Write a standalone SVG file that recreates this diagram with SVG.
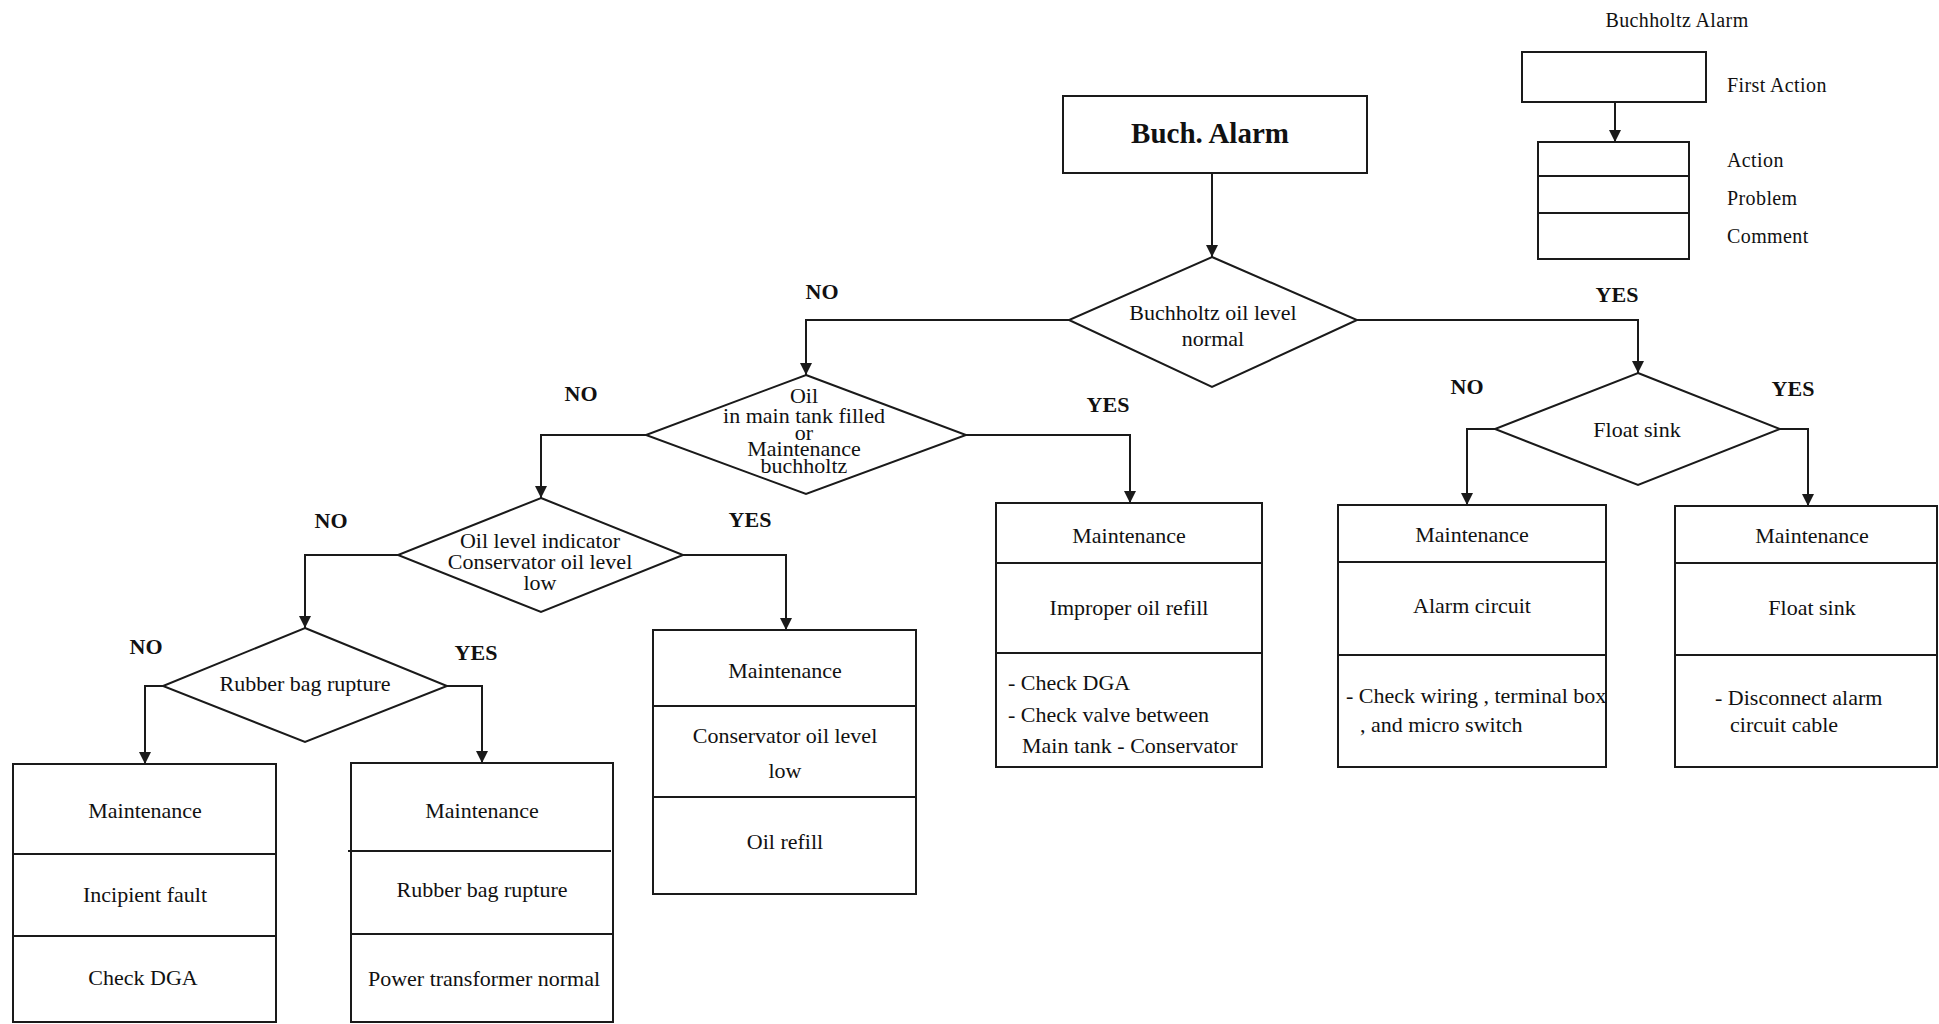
<svg xmlns="http://www.w3.org/2000/svg" width="1939" height="1024" viewBox="0 0 1939 1024">
  <defs>
    <marker id="arrow" viewBox="0 0 12 12" refX="12" refY="6" markerWidth="12" markerHeight="12" markerUnits="userSpaceOnUse" orient="auto">
      <path d="M0,0 L12,6 L0,12 z" fill="#1a1a1a"/>
    </marker>
  </defs>
  <style>
    .shape { fill: #fff; stroke: #1a1a1a; stroke-width: 2; }
    .div { stroke: #1a1a1a; stroke-width: 2; }
    .conn { fill: none; stroke: #1a1a1a; stroke-width: 2; marker-end: url(#arrow); }
    text { font-family: "Liberation Serif", "Times New Roman", serif; fill: #111; }
    .t { font-size: 22px; text-anchor: middle; }
    .tl { font-size: 22px; }
    .lbl { font-size: 22px; font-weight: bold; text-anchor: middle; }
    .title { font-size: 29px; font-weight: bold; text-anchor: middle; }
    .leg { font-size: 20px; letter-spacing: 0.4px; }
  </style>

  <rect x="0" y="0" width="1939" height="1024" fill="#fff"/>

  <!-- legend -->
  <g id="legend">
    <text class="leg" x="1677" y="27" text-anchor="middle">Buchholtz Alarm</text>
    <rect class="shape" x="1522" y="52" width="184" height="50"/>
    <text class="leg" x="1727" y="92">First Action</text>
    <rect class="shape" x="1538" y="142" width="151" height="117"/>
    <line class="div" x1="1538" y1="176" x2="1689" y2="176"/>
    <line class="div" x1="1538" y1="213" x2="1689" y2="213"/>
    <text class="leg" x="1727" y="167">Action</text>
    <text class="leg" x="1727" y="205">Problem</text>
    <text class="leg" x="1727" y="243">Comment</text>
  </g>

  <!-- connectors -->
  <g id="connectors">
    <path class="conn" d="M1615,102 V142"/>
    <path class="conn" d="M1212,173 V257"/>
    <path class="conn" d="M1069,320 H806 V375"/>
    <path class="conn" d="M1357,320 H1638 V373"/>
    <path class="conn" d="M646,435 H541 V498"/>
    <path class="conn" d="M966,435 H1130 V503"/>
    <path class="conn" d="M398,555 H305 V628"/>
    <path class="conn" d="M683,555 H786 V630"/>
    <path class="conn" d="M163,686 H145 V764"/>
    <path class="conn" d="M447,686 H482 V763"/>
    <path class="conn" d="M1495,429 H1467 V505"/>
    <path class="conn" d="M1780,429 H1808 V506"/>
  </g>

  <!-- branch labels -->
  <g id="labels">
    <text class="lbl" x="822" y="299">NO</text>
    <text class="lbl" x="1617" y="302">YES</text>
    <text class="lbl" x="581" y="401">NO</text>
    <text class="lbl" x="1108" y="412">YES</text>
    <text class="lbl" x="331" y="528">NO</text>
    <text class="lbl" x="750" y="527">YES</text>
    <text class="lbl" x="146" y="654">NO</text>
    <text class="lbl" x="476" y="660">YES</text>
    <text class="lbl" x="1467" y="394">NO</text>
    <text class="lbl" x="1793" y="396">YES</text>
  </g>

  <!-- start -->
  <g id="buch-alarm">
    <rect class="shape" x="1063" y="96" width="304" height="77"/>
    <text class="title" x="1210" y="143">Buch. Alarm</text>
  </g>

  <!-- decisions -->
  <g id="oil-level-normal">
    <polygon class="shape" points="1212,257 1357,320 1212,387 1069,320"/>
    <text class="t" x="1213" y="320">Buchholtz oil level</text>
    <text class="t" x="1213" y="346">normal</text>
  </g>

  <g id="main-tank-filled">
    <polygon class="shape" points="806,375 966,435 806,494 646,435"/>
    <text class="t" x="804" y="403">Oil</text>
    <text class="t" x="804" y="423">in main tank filled</text>
    <text class="t" x="804" y="440">or</text>
    <text class="t" x="804" y="456">Maintenance</text>
    <text class="t" x="804" y="473">buchholtz</text>
  </g>

  <g id="conservator-low">
    <polygon class="shape" points="541,498 683,555 541,612 398,555"/>
    <text class="t" x="540" y="548">Oil level indicator</text>
    <text class="t" x="540" y="569">Conservator oil level</text>
    <text class="t" x="540" y="590">low</text>
  </g>

  <g id="rubber-bag">
    <polygon class="shape" points="305,628 447,686 305,742 163,686"/>
    <text class="t" x="305" y="691">Rubber bag rupture</text>
  </g>

  <g id="float-sink">
    <polygon class="shape" points="1638,373 1780,429 1638,485 1495,429"/>
    <text class="t" x="1637" y="437">Float sink</text>
  </g>

  <!-- result boxes -->
  <g id="box-incipient">
    <rect class="shape" x="13" y="764" width="263" height="258"/>
    <line class="div" x1="13" y1="854" x2="276" y2="854"/>
    <line class="div" x1="13" y1="936" x2="276" y2="936"/>
    <text class="t" x="145" y="818">Maintenance</text>
    <text class="t" x="145" y="902">Incipient fault</text>
    <text class="t" x="143" y="985">Check DGA</text>
  </g>

  <g id="box-rubber">
    <rect class="shape" x="351" y="763" width="262" height="259"/>
    <line class="div" x1="348" y1="851" x2="611" y2="851"/>
    <line class="div" x1="351" y1="934" x2="613" y2="934"/>
    <text class="t" x="482" y="818">Maintenance</text>
    <text class="t" x="482" y="897">Rubber bag rupture</text>
    <text class="t" x="484" y="986">Power transformer normal</text>
  </g>

  <g id="box-conservator">
    <rect class="shape" x="653" y="630" width="263" height="264"/>
    <line class="div" x1="653" y1="706" x2="916" y2="706"/>
    <line class="div" x1="653" y1="797" x2="916" y2="797"/>
    <text class="t" x="785" y="678">Maintenance</text>
    <text class="t" x="785" y="743">Conservator oil level</text>
    <text class="t" x="785" y="778">low</text>
    <text class="t" x="785" y="849">Oil refill</text>
  </g>

  <g id="box-refill">
    <rect class="shape" x="996" y="503" width="266" height="264"/>
    <line class="div" x1="996" y1="563" x2="1262" y2="563"/>
    <line class="div" x1="996" y1="653" x2="1262" y2="653"/>
    <text class="t" x="1129" y="543">Maintenance</text>
    <text class="t" x="1129" y="615">Improper oil refill</text>
    <text class="tl" x="1008" y="690">- Check DGA</text>
    <text class="tl" x="1008" y="722">- Check valve between</text>
    <text class="tl" x="1022" y="753">Main tank - Conservator</text>
  </g>

  <g id="box-alarm-circuit">
    <rect class="shape" x="1338" y="505" width="268" height="262"/>
    <line class="div" x1="1338" y1="562" x2="1606" y2="562"/>
    <line class="div" x1="1338" y1="655" x2="1606" y2="655"/>
    <text class="t" x="1472" y="542">Maintenance</text>
    <text class="t" x="1472" y="613">Alarm circuit</text>
    <text class="tl" x="1346" y="703">- Check wiring , terminal box</text>
    <text class="tl" x="1360" y="732">, and micro switch</text>
  </g>

  <g id="box-float">
    <rect class="shape" x="1675" y="506" width="262" height="261"/>
    <line class="div" x1="1675" y1="563" x2="1937" y2="563"/>
    <line class="div" x1="1675" y1="655" x2="1937" y2="655"/>
    <text class="t" x="1812" y="543">Maintenance</text>
    <text class="t" x="1812" y="615">Float sink</text>
    <text class="tl" x="1715" y="705">- Disconnect alarm</text>
    <text class="tl" x="1730" y="732">circuit cable</text>
  </g>
</svg>
